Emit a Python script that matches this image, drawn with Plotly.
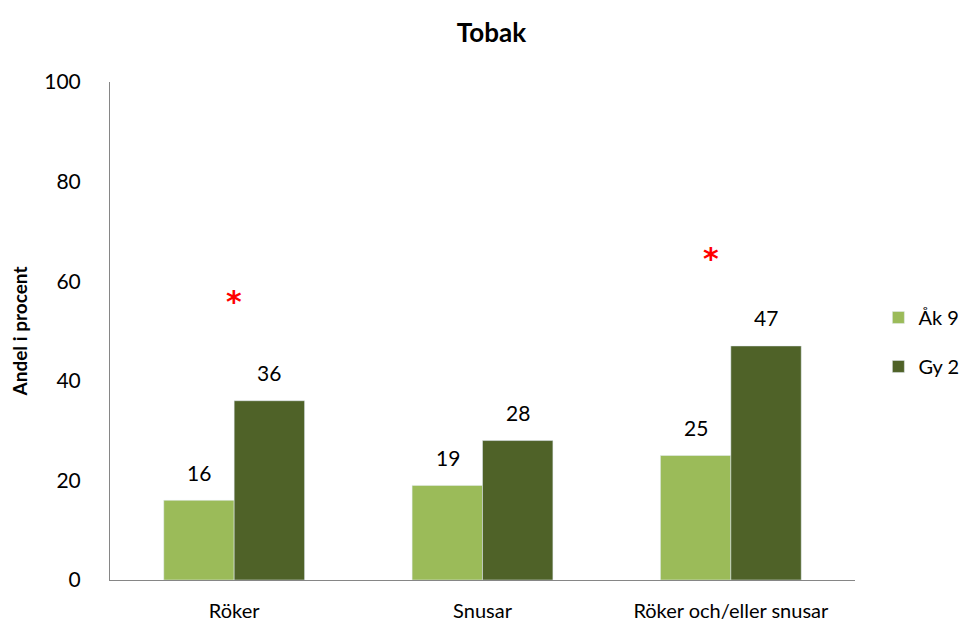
import plotly.graph_objects as go

categories = ["Röker", "Snusar", "Röker och/eller snusar"]
ak9 = [16, 19, 25]
gy2 = [36, 28, 47]
star_categories = ["Röker", "Röker och/eller snusar"]
star_values = [56, 64.5]
star_shifts = [0, -20]

FONT = "Lato, Carlito, Calibri, sans-serif"

fig = go.Figure()
fig.add_trace(go.Bar(x=categories, y=ak9, name="Åk 9", marker_color="#9BBB59",
                     legendgroup="a", offsetgroup="a"))
fig.add_trace(go.Bar(x=categories, y=gy2, name="Gy 2", marker_color="#4F6228",
                     legendgroup="b", offsetgroup="b"))

# value labels above each bar (a bit of air like the original)
for vals, dx in ((ak9, -35), (gy2, 35)):
    for cat, v in zip(categories, vals):
        fig.add_annotation(x=cat, y=v, text=str(v), showarrow=False,
                           xshift=dx, yshift=28, yanchor="middle",
                           font=dict(size=21, color="#000000", family=FONT))

# significance markers
for cat, val, dx in zip(star_categories, star_values, star_shifts):
    fig.add_annotation(x=cat, y=val, text="<b>*</b>", showarrow=False, xshift=dx,
                       yanchor="middle",
                       font=dict(size=30, color="#FF0000", family="DejaVu Sans"))

fig.update_layout(
    width=967, height=628,
    title=dict(text="<b>Tobak</b>", x=0.5, xanchor="center", y=0.975,
               font=dict(size=26, color="#000000", family=FONT)),
    font=dict(family=FONT, size=20, color="#000000"),
    plot_bgcolor="white", paper_bgcolor="white",
    margin=dict(l=102, r=119, t=74, b=56),
    barmode="group", bargap=0.433, bargroupgap=0,
    legend=dict(x=1.03, y=0.478, xanchor="left", yanchor="middle",
                font=dict(size=20), traceorder="grouped", tracegroupgap=20),
)
fig.update_yaxes(range=[0, 100], dtick=20, showgrid=False, showline=True,
                 linecolor="#868686", linewidth=1, ticks="", zeroline=False,
                 automargin=False, ticklabelstandoff=24,
                 tickfont=dict(size=21),
                 title=dict(text="<b>Andel i procent</b>", font=dict(size=19), standoff=24))
fig.update_xaxes(showline=True, linecolor="#868686", linewidth=1, ticks="",
                 automargin=False, ticklabelstandoff=13)

fig.write_html("out.html")
